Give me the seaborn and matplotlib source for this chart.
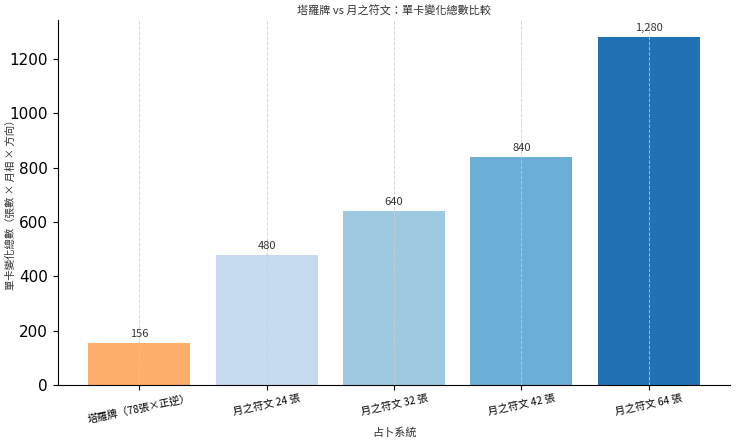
import matplotlib
matplotlib.use("Agg")
import matplotlib.pyplot as plt
import seaborn as sns
import pandas as pd

categories = ["塔羅牌（78張×正逆）", "月之符文 24 張", "月之符文 32 張", "月之符文 42 張", "月之符文 64 張"]
values = [156, 480, 640, 840, 1280]
colors = ["#FDAE6B", "#C6DBEF", "#9ECAE1", "#6BAED6", "#2171B5"]

plt.rcParams['font.family'] = ['Noto Sans CJK TC', 'DejaVu Sans']

df = pd.DataFrame({"system": categories, "total": values})

fig, ax = plt.subplots(figsize=(7.4, 4.41), dpi=100)
sns.barplot(data=df, x="system", y="total", hue="system", palette=colors,
            legend=False, ax=ax, width=0.8, saturation=1)

for i, v in enumerate(values):
    ax.text(i, v + 15, f"{v:,}", ha="center", va="bottom", fontsize=8, color="#333333")

ax.set_title("塔羅牌 vs 月之符文：單卡變化總數比較", fontsize=8, color="#333333", pad=4)
ax.set_xlabel("占卜系統", fontsize=8, color="#333333")
ax.set_ylabel("單卡變化總數（張數 × 月相 × 方向）", fontsize=7.5, color="#333333")
ax.xaxis.set_label_coords(0.5, -0.115)
ax.yaxis.set_label_coords(-0.062, 0.5)
ax.tick_params(axis='x', labelsize=7.5, rotation=12, pad=2)
ax.tick_params(axis='y', labelsize=11)
for lbl in ax.get_yticklabels():
    lbl.set_family('DejaVu Sans')
ax.set_ylim(0, 1344)
ax.set_xlim(-0.64, 4.64)
ax.grid(axis='x', linestyle='--', color='#cccccc', linewidth=0.7, alpha=0.8)
ax.set_axisbelow(False)
ax.spines['top'].set_visible(False)
ax.spines['right'].set_visible(False)

fig.subplots_adjust(left=0.078, right=0.987, top=0.955, bottom=0.127)
fig.savefig("out.png", dpi=100)
